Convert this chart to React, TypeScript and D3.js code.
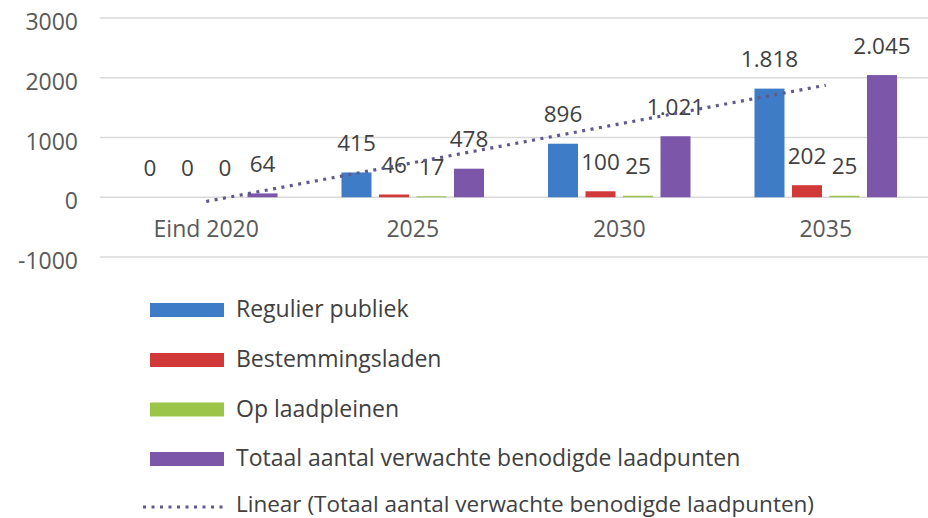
import React from "react";
import * as d3 from "d3";

const categories = ["Eind 2020", "2025", "2030", "2035"];
const seriesNames = [
  "Regulier publiek",
  "Bestemmingsladen",
  "Op laadpleinen",
  "Totaal aantal verwachte benodigde laadpunten",
];
const reguliersPubliek = [0, 415, 896, 1818];
const bestemmingsladen = [0, 46, 100, 202];
const opLaadpleinen = [0, 17, 25, 25];
const totaal = [64, 478, 1021, 2045];
const yTicks = [3000, 2000, 1000, 0, -1000];
const trendLabel = "Linear (Totaal aantal verwachte benodigde laadpunten)";

const colors = ["#3f7cc8", "#d23a3a", "#9ac549", "#7c56a8"];
const trendColor = "#5e5a8c";

const W = 928;
const H = 518;
const FONT = "'Open Sans', Lato, sans-serif";

export default function App() {
  const series = [reguliersPubliek, bestemmingsladen, opLaadpleinen, totaal];
  const y = d3.scaleLinear().domain([-1000, 3000]).range([257, 18]);
  const x0 = d3.scaleBand<string>().domain(categories).range([103, 929]).padding(0);
  const x1 = d3
    .scaleBand<string>()
    .domain(seriesNames)
    .range([0, x0.bandwidth()])
    .paddingInner(0.2)
    .paddingOuter(0.853);

  const nl = d3.formatLocale({
    decimal: ",",
    thousands: ".",
    grouping: [3],
    currency: ["€", ""],
  });
  const fmt = nl.format(",d");

  // linear regression on totals (x = 1..n)
  const xs = totaal.map((_, i) => i + 1);
  const mx = d3.mean(xs)!;
  const my = d3.mean(totaal)!;
  const slope =
    d3.sum(xs.map((xv, i) => (xv - mx) * (totaal[i] - my))) /
    d3.sum(xs.map((xv) => (xv - mx) ** 2));
  const intercept = my - slope * mx;
  const trendPts: [number, number][] = [
    [x0(categories[0])! + x0.bandwidth() / 2, y(intercept + slope * 1)],
    [
      x0(categories[categories.length - 1])! + x0.bandwidth() / 2,
      y(intercept + slope * categories.length),
    ],
  ];
  const line = d3.line();

  const legendBase = [317, 367, 416.5, 466];

  return (
    <svg width={W} height={H} style={{ position: "absolute", left: 0, top: 0 }} fontFamily={FONT}>
      <rect x={0} y={0} width={W} height={H} fill="#ffffff" />
      {yTicks.map((t) => (
        <g key={t}>
          <line x1={100} x2={W} y1={y(t)} y2={y(t)} stroke="#d9d9d9" strokeWidth={1.5} />
          <text x={78} y={y(t) + 12} textAnchor="end" fontSize={23} fill="#595959">
            {String(t)}
          </text>
        </g>
      ))}
      {categories.map((c, ci) => (
        <g key={c}>
          {series.map((s, si) => {
            const v = s[ci];
            const bx = x0(c)! + x1(seriesNames[si])!;
            const top = y(Math.max(0, v));
            const h = Math.abs(y(v) - y(0));
            return (
              <g key={si}>
                <rect x={bx} y={top} width={x1.bandwidth()} height={h} fill={colors[si]} />
                <text
                  x={bx + x1.bandwidth() / 2}
                  y={y(v) - 21.5}
                  textAnchor="middle"
                  fontSize={22.5}
                  fill="#404040"
                >
                  {fmt(v)}
                </text>
              </g>
            );
          })}
          <text
            x={x0(c)! + x0.bandwidth() / 2}
            y={237}
            textAnchor="middle"
            fontSize={23}
            fill="#595959"
          >
            {c}
          </text>
        </g>
      ))}
      <path
        d={line(trendPts)!}
        fill="none"
        stroke={trendColor}
        strokeWidth={3.2}
        strokeDasharray="3 5.5"
      />
      {seriesNames.map((n, i) => (
        <g key={n}>
          <rect x={150} y={legendBase[i] - 14} width={74} height={14} fill={colors[i]} />
          <text x={236} y={legendBase[i]} fontSize={23} fill="#404040">
            {n}
          </text>
        </g>
      ))}
      <line
        x1={143}
        x2={223}
        y1={507}
        y2={507}
        stroke={trendColor}
        strokeWidth={3.2}
        strokeDasharray="3 5.5"
      />
      <text x={236} y={512} fontSize={22.5} fill="#404040">
        {trendLabel}
      </text>
    </svg>
  );
}
